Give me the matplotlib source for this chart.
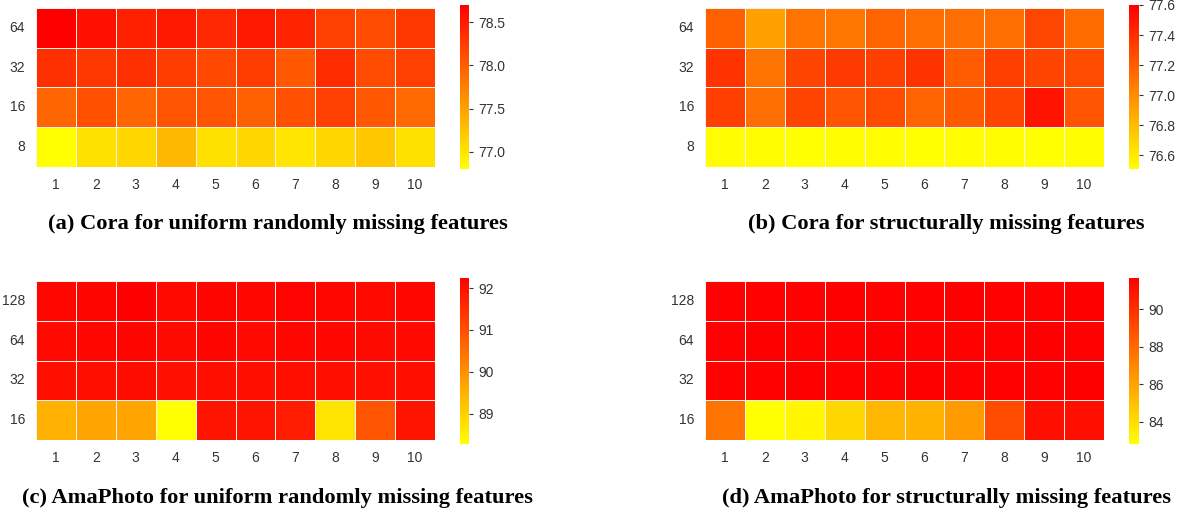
import matplotlib
matplotlib.use("Agg")
import numpy as np
import pandas as pd
import matplotlib.pyplot as plt
import seaborn as sns

# data ----------------------------------------------------------------------
cols = [1, 2, 3, 4, 5, 6, 7, 8, 9, 10]
rows_cora = [64, 32, 16, 8]
rows_ama = [128, 64, 32, 16]

cora_uniform = [
    [78.70, 78.58, 78.46, 78.52, 78.40, 78.52, 78.43, 78.22, 78.13, 78.28],
    [78.34, 78.28, 78.34, 78.25, 78.16, 78.25, 78.04, 78.37, 78.13, 78.22],
    [77.95, 78.10, 77.95, 78.07, 78.07, 77.98, 78.10, 78.22, 78.04, 77.92],
    [76.80, 77.03, 77.10, 77.33, 77.03, 77.10, 77.00, 77.10, 77.22, 77.03],
]
cora_struct = [
    [77.19, 76.92, 77.11, 77.09, 77.17, 77.13, 77.13, 77.13, 77.30, 77.14],
    [77.38, 77.11, 77.31, 77.35, 77.33, 77.38, 77.21, 77.33, 77.31, 77.28],
    [77.33, 77.13, 77.31, 77.24, 77.28, 77.17, 77.22, 77.31, 77.52, 77.24],
    [76.52, 76.52, 76.51, 76.52, 76.52, 76.51, 76.52, 76.52, 76.51, 76.52],
]
ama_uniform = [
    [92.12, 92.15, 92.24, 92.10, 92.15, 92.12, 92.18, 92.12, 92.10, 92.12],
    [92.10, 92.12, 92.15, 92.08, 92.15, 92.10, 92.12, 92.12, 92.08, 92.10],
    [92.00, 92.02, 92.05, 91.98, 92.00, 92.00, 92.02, 92.00, 91.98, 92.00],
    [89.51, 89.69, 89.69, 88.28, 91.93, 91.93, 91.80, 88.70, 90.94, 91.93],
]
ama_struct = [
    [91.62, 91.60, 91.62, 91.65, 91.60, 91.62, 91.65, 91.60, 91.62, 91.67],
    [91.62, 91.65, 91.60, 91.62, 91.65, 91.62, 91.60, 91.62, 91.65, 91.62],
    [91.60, 91.62, 91.65, 91.60, 91.62, 91.65, 91.62, 91.60, 91.62, 91.65],
    [87.68, 82.81, 83.13, 84.22, 85.34, 85.47, 86.30, 89.05, 91.15, 91.15],
]

cbar_ticks = [
    [77.0, 77.5, 78.0, 78.5],
    [76.6, 76.8, 77.0, 77.2, 77.4, 77.6],
    [89, 90, 91, 92],
    [84, 86, 88, 90],
]

captions = [
    "(a) Cora for uniform randomly missing features",
    "(b) Cora for structurally missing features",
    "(c) AmaPhoto for uniform randomly missing features",
    "(d) AmaPhoto for structurally missing features",
]

# plot ----------------------------------------------------------------------
W, H = 1183, 513
fig = plt.figure(figsize=(W / 100, H / 100), dpi=100)
plt.rcParams["font.family"] = ["Liberation Sans", "DejaVu Sans"]


def box(x0, y0, x1, y1):
    return [x0 / W, 1 - y1 / H, (x1 - x0) / W, (y1 - y0) / H]


panels = [
    (cora_uniform, rows_cora, box(36, 8, 435, 167), box(460, 5, 469, 169), (76.8, 78.7), (278, 224)),
    (cora_struct, rows_cora, box(705, 8, 1104, 167), box(1129, 5, 1139, 169), (76.51, 77.6), (946, 224)),
    (ama_uniform, rows_ama, box(36, 281, 435, 440), box(460, 278, 469, 444), (88.28, 92.24), (277, 498)),
    (ama_struct, rows_ama, box(705, 281, 1104, 440), box(1129, 278, 1139, 444), (82.81, 91.67), (946, 498)),
]

for (vals, rows, apos, cpos, (vmin, vmax), (cx, cy)), ticks, cap in zip(panels, cbar_ticks, captions):
    df = pd.DataFrame(vals, index=rows, columns=cols)
    ax = fig.add_axes(apos)
    cax = fig.add_axes(cpos)
    sns.heatmap(df, ax=ax, cbar_ax=cax, cmap="autumn_r", vmin=vmin, vmax=vmax,
                linewidths=0.7, linecolor="#f6f0ee", cbar_kws={"ticks": ticks})
    ax.tick_params(length=0, labelsize=10, colors="#333333", pad=8)
    ax.set_yticklabels(rows, rotation=0)
    ax.set_xticklabels(cols, rotation=0)
    cax.tick_params(labelsize=10, colors="#333333", length=3, width=0.8)
    for s in cax.spines.values():
        s.set_visible(False)
    fig.text(cx / W, 1 - cy / H, cap, ha="center", va="center",
             fontsize=16.2, fontweight="bold", family=["Liberation Serif", "DejaVu Serif"])

fig.savefig("out.png", dpi=100)
